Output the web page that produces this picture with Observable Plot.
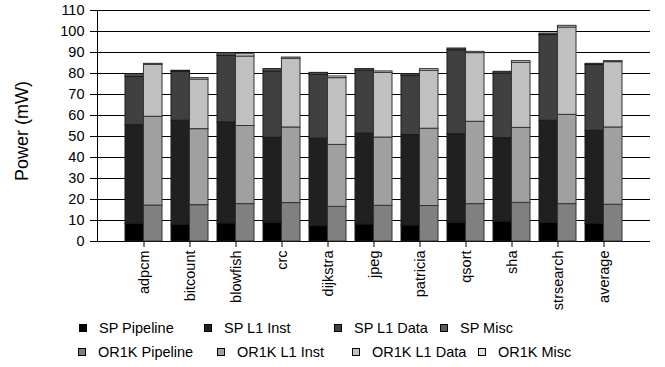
<!DOCTYPE html>
<html>
<head>
<meta charset="utf-8">
<script src="https://cdn.jsdelivr.net/npm/d3@7"></script>
<script src="https://cdn.jsdelivr.net/npm/@observablehq/plot@0.6"></script>
<style>
  body { margin: 0; background: #fff; font-family: "Liberation Sans", Arial, sans-serif; }
  #wrap { position: relative; width: 665px; height: 367px; background: #fff; }
  #ylabel { position: absolute; left: 22px; top: 131px; transform: translate(-50%, -50%) rotate(-90deg); font-size: 18px; white-space: nowrap; color: #000; }
  .lg { position: absolute; display: flex; align-items: center; font-size: 14.5px; color: #000; white-space: nowrap; height: 16px; }
  .sw { width: 6px; height: 6px; border: 1px solid #000; margin-right: 12px; }
</style>
</head>
<body>
<div id="wrap">
  <div id="plot"></div>
  <div id="ylabel">Power (mW)</div>
  <div id="legend"></div>
</div>
<script>
const categories = ["adpcm","bitcount","blowfish","crc","dijkstra","jpeg","patricia","qsort","sha","strsearch","average"];
const processors = ["SP", "OR1K"];
const components = ["Pipeline", "L1 Inst", "L1 Data", "Misc"];

const spPipeline   = [8.3, 8.0, 8.6, 9.0, 7.3, 8.1, 7.6, 9.0, 9.5, 8.9, 8.4];
const spL1Inst     = [47.1, 49.5, 48.1, 40.4, 41.7, 43.3, 43.1, 42.1, 39.7, 48.6, 44.3];
const spL1Data     = [23.0, 23.3, 31.7, 31.6, 30.4, 29.9, 28.2, 40.0, 30.8, 40.8, 31.3];
const spMisc       = [1.3, 0.5, 1.3, 1.1, 0.9, 0.8, 0.8, 0.8, 0.8, 0.7, 0.6];

const or1kPipeline = [17.1, 17.3, 17.8, 18.3, 16.5, 17.0, 16.9, 17.8, 18.4, 17.8, 17.5];
const or1kL1Inst   = [42.3, 36.2, 37.2, 36.0, 29.5, 32.5, 36.8, 39.2, 35.7, 42.5, 36.8];
const or1kL1Data   = [24.7, 23.6, 33.1, 32.7, 31.8, 30.8, 27.6, 32.7, 31.0, 41.6, 31.1];
const or1kMisc     = [0.5, 0.7, 1.1, 0.6, 0.8, 0.7, 0.8, 0.6, 0.8, 0.8, 0.5];

const yTicks = [0, 10, 20, 30, 40, 50, 60, 70, 80, 90, 100, 110];

const seriesNames = ["SP Pipeline","SP L1 Inst","SP L1 Data","SP Misc","OR1K Pipeline","OR1K L1 Inst","OR1K L1 Data","OR1K Misc"];
const grays = ["#000000","#202020","#404040","#5a5a5a","#808080","#a0a0a0","#c0c0c0","#e0e0e0"];

const valuesBy = {
  SP: [spPipeline, spL1Inst, spL1Data, spMisc],
  OR1K: [or1kPipeline, or1kL1Inst, or1kL1Data, or1kMisc]
};

function rowsFor(proc) {
  const out = [];
  categories.forEach((cat, i) => {
    components.forEach((comp, j) => {
      out.push({cat, proc, key: proc + " " + comp, value: valuesBy[proc][j][i]});
    });
  });
  return out;
}
const spData = rowsFor("SP");
const or1kData = rowsFor("OR1K");

const W = 665, H = 312, ML = 97, MR = 15, MT = 10, MB = 71;
const xOpts = {type: "band", domain: categories, paddingInner: 0.2, paddingOuter: 0.6};
const xScale = Plot.scale({x: {...xOpts, range: [ML, W - MR]}});
const half = xScale.bandwidth / 2;

const chart = Plot.plot({
  width: W,
  height: H,
  marginLeft: ML,
  marginRight: MR,
  marginTop: MT,
  marginBottom: MB,
  style: {fontFamily: "'Liberation Sans', Arial, sans-serif", fontSize: "14px", color: "#000", background: "#fff", overflow: "visible"},
  x: {...xOpts, label: null},
  y: {domain: [0, 110], label: null},
  color: {domain: seriesNames, range: grays},
  marks: [
    Plot.ruleY(yTicks, {stroke: "#000", strokeWidth: 1}),
    Plot.barY(spData, Plot.stackY({x: "cat", y: "value", fill: "key", stroke: "#1a1a1a", strokeWidth: 1, insetRight: half})),
    Plot.barY(or1kData, Plot.stackY({x: "cat", y: "value", fill: "key", stroke: "#333", strokeWidth: 1, insetLeft: half})),
    Plot.axisY({ticks: yTicks, tickSize: 7, tickPadding: 6, label: null, fontSize: 14.5}),
    Plot.axisX({tickRotate: -90, tickSize: 6, tickPadding: 3, label: null, fontSize: 14.5}),
    Plot.frame({anchor: "left", stroke: "#000"})
  ]
});
document.getElementById("plot").appendChild(chart);

// Legend (HTML, below the SVG)
const legendLeft = [[79, 204, 334, 440], [78, 217, 352, 478]];
const legendTop = [320, 344];
const legend = document.getElementById("legend");
seriesNames.forEach((name, k) => {
  const row = Math.floor(k / 4), col = k % 4;
  const item = document.createElement("div");
  item.className = "lg";
  item.style.left = legendLeft[row][col] + "px";
  item.style.top = legendTop[row] + "px";
  const sw = document.createElement("div");
  sw.className = "sw";
  sw.style.background = grays[k];
  const tx = document.createElement("span");
  tx.textContent = name;
  item.appendChild(sw);
  item.appendChild(tx);
  legend.appendChild(item);
});
</script>
</body>
</html>
